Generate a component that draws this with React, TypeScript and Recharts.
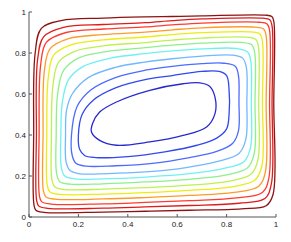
import React from "react";
import { LineChart, Line, XAxis, YAxis } from "recharts";

// Tick values
const xTicks = [0, 0.2, 0.4, 0.6, 0.8, 1];
const yTicks = [0, 0.2, 0.4, 0.6, 0.8, 1];

// Contour levels, innermost (dark blue) to outermost (dark red): [x, y] points
const c1 = [[0.253,0.415],[0.286,0.374],[0.354,0.350],[0.489,0.366],[0.624,0.398],[0.719,0.439],[0.753,0.504],[0.753,0.585],[0.732,0.637],[0.692,0.654],[0.624,0.650],[0.489,0.618],[0.354,0.561],[0.286,0.512],[0.257,0.455]];
const c2 = [[0.200,0.400],[0.205,0.330],[0.225,0.300],[0.270,0.290],[0.400,0.295],[0.550,0.318],[0.680,0.350],[0.760,0.385],[0.800,0.430],[0.810,0.500],[0.810,0.620],[0.800,0.690],[0.770,0.710],[0.700,0.710],[0.580,0.690],[0.470,0.670],[0.350,0.630],[0.260,0.570],[0.215,0.500]];
const c3 = [[0.172,0.400],[0.175,0.300],[0.190,0.262],[0.230,0.248],[0.350,0.250],[0.500,0.262],[0.650,0.290],[0.760,0.320],[0.825,0.360],[0.848,0.420],[0.850,0.560],[0.848,0.690],[0.835,0.735],[0.790,0.750],[0.700,0.748],[0.580,0.735],[0.470,0.716],[0.350,0.680],[0.250,0.620],[0.195,0.540]];
const c4 = [[0.148,0.400],[0.150,0.270],[0.165,0.228],[0.200,0.212],[0.320,0.212],[0.470,0.220],[0.630,0.240],[0.760,0.270],[0.850,0.310],[0.878,0.380],[0.882,0.560],[0.880,0.730],[0.865,0.775],[0.820,0.790],[0.700,0.785],[0.580,0.772],[0.470,0.756],[0.350,0.730],[0.240,0.680],[0.175,0.600],[0.152,0.520]];
const c5 = [[0.129,0.400],[0.131,0.240],[0.145,0.200],[0.185,0.186],[0.300,0.186],[0.470,0.195],[0.640,0.210],[0.780,0.235],[0.870,0.270],[0.897,0.340],[0.900,0.560],[0.898,0.760],[0.885,0.805],[0.840,0.822],[0.700,0.820],[0.580,0.810],[0.470,0.797],[0.330,0.775],[0.220,0.735],[0.160,0.670],[0.135,0.560]];
const c6 = [[0.110,0.400],[0.112,0.210],[0.125,0.172],[0.165,0.160],[0.300,0.162],[0.470,0.171],[0.650,0.184],[0.800,0.205],[0.885,0.240],[0.912,0.310],[0.915,0.560],[0.914,0.800],[0.902,0.840],[0.860,0.852],[0.700,0.848],[0.580,0.838],[0.470,0.826],[0.320,0.808],[0.200,0.775],[0.140,0.715],[0.116,0.600]];
const c7 = [[0.091,0.400],[0.093,0.180],[0.105,0.146],[0.145,0.134],[0.300,0.136],[0.470,0.143],[0.650,0.155],[0.810,0.175],[0.900,0.210],[0.927,0.280],[0.930,0.560],[0.929,0.830],[0.918,0.866],[0.880,0.877],[0.700,0.873],[0.580,0.863],[0.470,0.851],[0.310,0.836],[0.185,0.808],[0.120,0.755],[0.097,0.640]];
const c8 = [[0.072,0.400],[0.074,0.155],[0.085,0.122],[0.125,0.110],[0.300,0.112],[0.470,0.119],[0.650,0.130],[0.820,0.147],[0.915,0.180],[0.943,0.250],[0.945,0.560],[0.945,0.858],[0.935,0.893],[0.900,0.903],[0.700,0.899],[0.580,0.890],[0.470,0.878],[0.300,0.864],[0.170,0.840],[0.100,0.790],[0.078,0.680]];
const c9 = [[0.057,0.400],[0.058,0.130],[0.068,0.099],[0.105,0.087],[0.300,0.088],[0.470,0.095],[0.650,0.105],[0.830,0.120],[0.930,0.150],[0.957,0.220],[0.960,0.560],[0.960,0.885],[0.950,0.917],[0.915,0.926],[0.700,0.923],[0.580,0.913],[0.470,0.902],[0.300,0.890],[0.160,0.870],[0.085,0.820],[0.062,0.710]];
const c10 = [[0.041,0.400],[0.042,0.105],[0.051,0.075],[0.090,0.063],[0.300,0.064],[0.470,0.071],[0.650,0.080],[0.840,0.093],[0.945,0.120],[0.971,0.190],[0.974,0.560],[0.974,0.910],[0.964,0.942],[0.930,0.950],[0.700,0.946],[0.580,0.937],[0.470,0.927],[0.300,0.917],[0.150,0.900],[0.070,0.852],[0.047,0.740]];
const c11 = [[0.030,0.400],[0.031,0.080],[0.040,0.053],[0.075,0.042],[0.300,0.043],[0.470,0.049],[0.650,0.056],[0.850,0.067],[0.955,0.090],[0.981,0.160],[0.984,0.560],[0.984,0.932],[0.975,0.962],[0.945,0.970],[0.700,0.966],[0.580,0.958],[0.470,0.948],[0.300,0.939],[0.140,0.925],[0.060,0.880],[0.035,0.770]];
const c12 = [[0.019,0.400],[0.020,0.060],[0.028,0.033],[0.060,0.023],[0.300,0.024],[0.470,0.028],[0.650,0.033],[0.860,0.040],[0.960,0.055],[0.988,0.110],[0.991,0.560],[0.991,0.955],[0.983,0.978],[0.955,0.985],[0.700,0.981],[0.580,0.978],[0.470,0.976],[0.300,0.970],[0.130,0.958],[0.050,0.920],[0.025,0.800]];

const contours = [c1, c2, c3, c4, c5, c6, c7, c8, c9, c10, c11, c12];
const colors = ["#2828d0", "#3048ee", "#4c6cff", "#70b8ff", "#70f0f0", "#8cf08c", "#bef050", "#ecec10", "#ff9a28", "#ff3a30", "#e01a1a", "#8e1212"];

// closed centripetal Catmull-Rom curve factory
const closedCatmull = (context: any) => {
  let pts: number[][] = [];
  return {
    areaStart() {},
    areaEnd() {},
    lineStart() { pts = []; },
    point(x: number, y: number) { pts.push([+x, +y]); },
    lineEnd() {
      const n = pts.length;
      if (n < 3) return;
      context.moveTo(pts[0][0], pts[0][1]);
      for (let i = 0; i < n; i++) {
        const p0 = pts[(i - 1 + n) % n];
        const p1 = pts[i];
        const p2 = pts[(i + 1) % n];
        const p3 = pts[(i + 2) % n];
        const l01 = Math.hypot(p1[0] - p0[0], p1[1] - p0[1]);
        const l12 = Math.hypot(p2[0] - p1[0], p2[1] - p1[1]);
        const l23 = Math.hypot(p3[0] - p2[0], p3[1] - p2[1]);
        const l01a = Math.sqrt(l01), l12a = Math.sqrt(l12), l23a = Math.sqrt(l23);
        let x1 = p1[0], y1 = p1[1], x2 = p2[0], y2 = p2[1];
        if (l01a > 1e-9) {
          const a = 2 * l01 + 3 * l01a * l12a + l12;
          const nn = 3 * l01a * (l01a + l12a);
          x1 = (p1[0] * a - p0[0] * l12 + p2[0] * l01) / nn;
          y1 = (p1[1] * a - p0[1] * l12 + p2[1] * l01) / nn;
        }
        if (l23a > 1e-9) {
          const b = 2 * l23 + 3 * l23a * l12a + l12;
          const m = 3 * l23a * (l23a + l12a);
          x2 = (p2[0] * b + p1[0] * l23 - p3[0] * l12) / m;
          y2 = (p2[1] * b + p1[1] * l23 - p3[1] * l12) / m;
        }
        context.bezierCurveTo(x1, y1, x2, y2, p2[0], p2[1]);
      }
      context.closePath();
    },
  };
};

const FONT = "'Liberation Sans', Arial, Helvetica, sans-serif";
const AXIS = "#555";
const TXT = "#222";
const fmt = (v: number) => String(v);

const BottomTick = (props: any) => {
  const { x, y, payload } = props;
  const axisY = y - 4;
  return (
    <g>
      <line x1={x} y1={axisY} x2={x} y2={axisY - 3} stroke={AXIS} strokeWidth={1} />
      <text x={x} y={y} dy="0.71em" textAnchor="middle" fontSize={8} fontFamily={FONT} fill={TXT}>{fmt(payload.value)}</text>
    </g>
  );
};
const LeftTick = (props: any) => {
  const { x, y, payload } = props;
  const axisX = x + 3;
  return (
    <g>
      <line x1={axisX} y1={y} x2={axisX + 3} y2={y} stroke={AXIS} strokeWidth={1} />
      <text x={x} y={y} dy="0.355em" textAnchor="end" fontSize={8} fontFamily={FONT} fill={TXT}>{fmt(payload.value)}</text>
    </g>
  );
};
const TopTick = (props: any) => {
  const { x, y } = props;
  return <line x1={x} y1={y} x2={x} y2={y + 3} stroke={AXIS} strokeWidth={1} />;
};
const RightTick = (props: any) => {
  const { x, y } = props;
  return <line x1={x} y1={y} x2={x - 3} y2={y} stroke={AXIS} strokeWidth={1} />;
};

export default function App() {
  return (
    <div style={{ position: "absolute", left: 0, top: 0, width: 291, height: 242, background: "#fff" }}>
      <LineChart width={291} height={242} margin={{ top: 12, right: 15, bottom: 0, left: 0 }}>
        <XAxis xAxisId={0} dataKey="x" type="number" domain={[0, 1]} ticks={xTicks} allowDuplicatedCategory={false}
          height={25} tickSize={0} tickMargin={4} axisLine={{ stroke: AXIS }} tick={<BottomTick />} interval={0} />
        <XAxis xAxisId="top" orientation="top" dataKey="x" type="number" domain={[0, 1]} ticks={xTicks}
          height={0} tickSize={0} tickMargin={0} axisLine={{ stroke: AXIS }} tick={<TopTick />} interval={0} />
        <YAxis yAxisId={0} dataKey="y" type="number" domain={[0, 1]} ticks={yTicks} width={29}
          tickSize={0} tickMargin={3} axisLine={{ stroke: AXIS }} tick={<LeftTick />} interval={0} />
        <YAxis yAxisId="right" orientation="right" dataKey="y" type="number" domain={[0, 1]} ticks={yTicks} width={0}
          tickSize={0} tickMargin={0} axisLine={{ stroke: AXIS }} tick={<RightTick />} interval={0} />
        {contours.map((c, i) => (
          <Line
            key={i}
            xAxisId={0}
            yAxisId={0}
            data={c.map(([x, y]) => ({ x, y }))}
            dataKey="y"
            type={closedCatmull as any}
            stroke={colors[i]}
            strokeWidth={1.3}
            dot={false}
            activeDot={false}
            isAnimationActive={false}
          />
        ))}
      </LineChart>
    </div>
  );
}
